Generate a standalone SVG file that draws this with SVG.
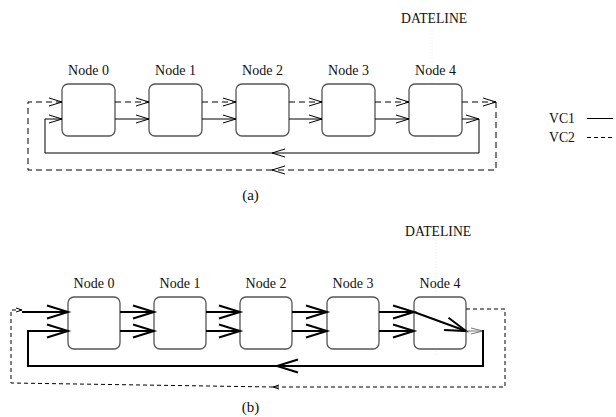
<svg xmlns="http://www.w3.org/2000/svg" width="616" height="417" viewBox="0 0 616 417" font-family="'Liberation Serif', 'DejaVu Serif', serif">
<style>
text{font-family:'Liberation Serif','DejaVu Serif',serif;fill:#111}
.lbl{font-size:14px;text-anchor:middle}
.dl{font-size:13.7px}
.cap{font-size:15px;text-anchor:middle}
.node{fill:#fff;stroke:#555;stroke-width:1.3}
.s1{fill:none;stroke:#000;stroke-width:1}
.d1{fill:none;stroke:#000;stroke-width:1;stroke-dasharray:6,4}
.s2{fill:none;stroke:#000;stroke-width:2}
.d2{fill:none;stroke:#000;stroke-width:1;stroke-dasharray:4,3}
.g1{fill:none;stroke:#777;stroke-width:1}
.date{fill:none;stroke:#ececec;stroke-width:1;stroke-dasharray:1,2}
</style>
<defs>
<marker id="aA" markerUnits="userSpaceOnUse" markerWidth="20" markerHeight="12" viewBox="-15 -6 16 12" refX="0" refY="0" orient="auto" overflow="visible">
<path d="M-13,-4 L0,0 L-13,4" fill="none" stroke="#000" stroke-width="1"/>
</marker>
<marker id="aB" markerUnits="userSpaceOnUse" markerWidth="26" markerHeight="16" viewBox="-23 -8 24 16" refX="0" refY="0" orient="auto" overflow="visible">
<path d="M-21,-6.5 L0,0 L-21,6.5" fill="none" stroke="#000" stroke-width="2"/>
</marker>
<marker id="aG" markerUnits="userSpaceOnUse" markerWidth="16" markerHeight="10" viewBox="-13 -5 14 10" refX="0" refY="0" orient="auto" overflow="visible">
<path d="M-12,-3 L0,0 L-12,3" fill="none" stroke="#777" stroke-width="1"/>
</marker>
<marker id="aS" markerUnits="userSpaceOnUse" markerWidth="10" markerHeight="6" viewBox="-7 -3 8 6" refX="0" refY="0" orient="auto" overflow="visible">
<path d="M-6,-2 L0,0 L-6,2" fill="none" stroke="#000" stroke-width="1"/>
</marker>
</defs>
<rect width="616" height="417" fill="#fff"/>

<!-- dateline markers (faint) -->
<line class="date" x1="432" y1="28" x2="432" y2="143"/>
<line class="date" x1="436" y1="240" x2="436" y2="355"/>

<!-- (a) nodes -->
<g id="a-node0"><rect class="node" x="62" y="84" width="53" height="52" rx="6"/><text class="lbl" x="88.5" y="75">Node 0</text></g>
<g id="a-node1"><rect class="node" x="149" y="84" width="53" height="52" rx="6"/><text class="lbl" x="175.5" y="75">Node 1</text></g>
<g id="a-node2"><rect class="node" x="236" y="84" width="53" height="52" rx="6"/><text class="lbl" x="262.5" y="75">Node 2</text></g>
<g id="a-node3"><rect class="node" x="322" y="84" width="53" height="52" rx="6"/><text class="lbl" x="348.5" y="75">Node 3</text></g>
<g id="a-node4"><rect class="node" x="409" y="84" width="53" height="52" rx="6"/><text class="lbl" x="435.5" y="75">Node 4</text></g>

<!-- (b) nodes -->
<g id="b-node0"><rect class="node" x="68" y="297" width="52" height="52" rx="6"/><text class="lbl" x="94" y="287.5">Node 0</text></g>
<g id="b-node1"><rect class="node" x="154" y="297" width="52" height="52" rx="6"/><text class="lbl" x="180" y="287.5">Node 1</text></g>
<g id="b-node2"><rect class="node" x="240" y="297" width="52" height="52" rx="6"/><text class="lbl" x="266" y="287.5">Node 2</text></g>
<g id="b-node3"><rect class="node" x="327" y="297" width="52" height="52" rx="6"/><text class="lbl" x="353" y="287.5">Node 3</text></g>
<g id="b-node4"><rect class="node" x="414" y="297" width="52" height="52" rx="6"/><text class="lbl" x="440" y="287.5">Node 4</text></g>

<g id="connectors">
<!-- (a) VC2 dashed -->
<path class="d1" d="M115,102 H149" marker-end="url(#aA)"/>
<path class="d1" d="M202,102 H236" marker-end="url(#aA)"/>
<path class="d1" d="M289,102 H322" marker-end="url(#aA)"/>
<path class="d1" d="M375,102 H409" marker-end="url(#aA)"/>
<path class="d1" d="M462,102 H496" marker-end="url(#aA)"/>
<path class="d1" d="M496,102 V170 H272" marker-end="url(#aA)"/>
<path class="d1" d="M272,170 H28 V102 H62" marker-end="url(#aA)"/>
<!-- (a) VC1 solid -->
<path class="s1" d="M115,119 H149" marker-end="url(#aA)"/>
<path class="s1" d="M202,119 H236" marker-end="url(#aA)"/>
<path class="s1" d="M289,119 H322" marker-end="url(#aA)"/>
<path class="s1" d="M375,119 H409" marker-end="url(#aA)"/>
<path class="s1" d="M462,119 H479" marker-end="url(#aA)"/>
<path class="s1" d="M479,119 V153 H272" marker-end="url(#aA)"/>
<path class="s1" d="M272,153 H45 V119 H62" marker-end="url(#aA)"/>

<!-- (b) thick solid -->
<path class="s2" d="M22,312 H68" marker-end="url(#aB)"/>
<path class="s2" d="M120,312 H154" marker-end="url(#aB)"/>
<path class="s2" d="M206,312 H240" marker-end="url(#aB)"/>
<path class="s2" d="M292,312 H327" marker-end="url(#aB)"/>
<path class="s2" d="M379,312 H414" marker-end="url(#aB)"/>
<path class="s2" d="M120,331 H154" marker-end="url(#aB)"/>
<path class="s2" d="M206,331 H240" marker-end="url(#aB)"/>
<path class="s2" d="M292,331 H327" marker-end="url(#aB)"/>
<path class="s2" d="M379,331 H414" marker-end="url(#aB)"/>
<path class="s2" d="M414,312 L466,331" marker-end="url(#aB)"/>
<path class="g1" d="M466,331 H483" marker-end="url(#aG)"/>
<path class="s2" d="M483,330 V366 H277" marker-end="url(#aB)"/>
<path class="s2" d="M277,366 H28 V331 H68" marker-end="url(#aB)"/>
<!-- (b) dashed -->
<path class="d2" d="M466,309 H505 V387 H273" marker-end="url(#aS)"/>
<path class="d2" d="M273,387 L11,383 V310 H22" marker-end="url(#aS)"/>
</g>

<!-- legend -->
<g id="legend">
<text class="dl" x="549" y="123">VC1</text>
<line class="s1" x1="587" y1="118.5" x2="613" y2="118.5"/>
<text class="dl" x="549" y="142">VC2</text>
<line class="s1" x1="587" y1="137.5" x2="613" y2="137.5" stroke-dasharray="4,3"/>
</g>

<text class="dl" x="401" y="23">DATELINE</text>
<text class="dl" x="405" y="236">DATELINE</text>
<text class="cap" x="250.5" y="200">(a)</text>
<text class="cap" x="250.5" y="412">(b)</text>
</svg>
